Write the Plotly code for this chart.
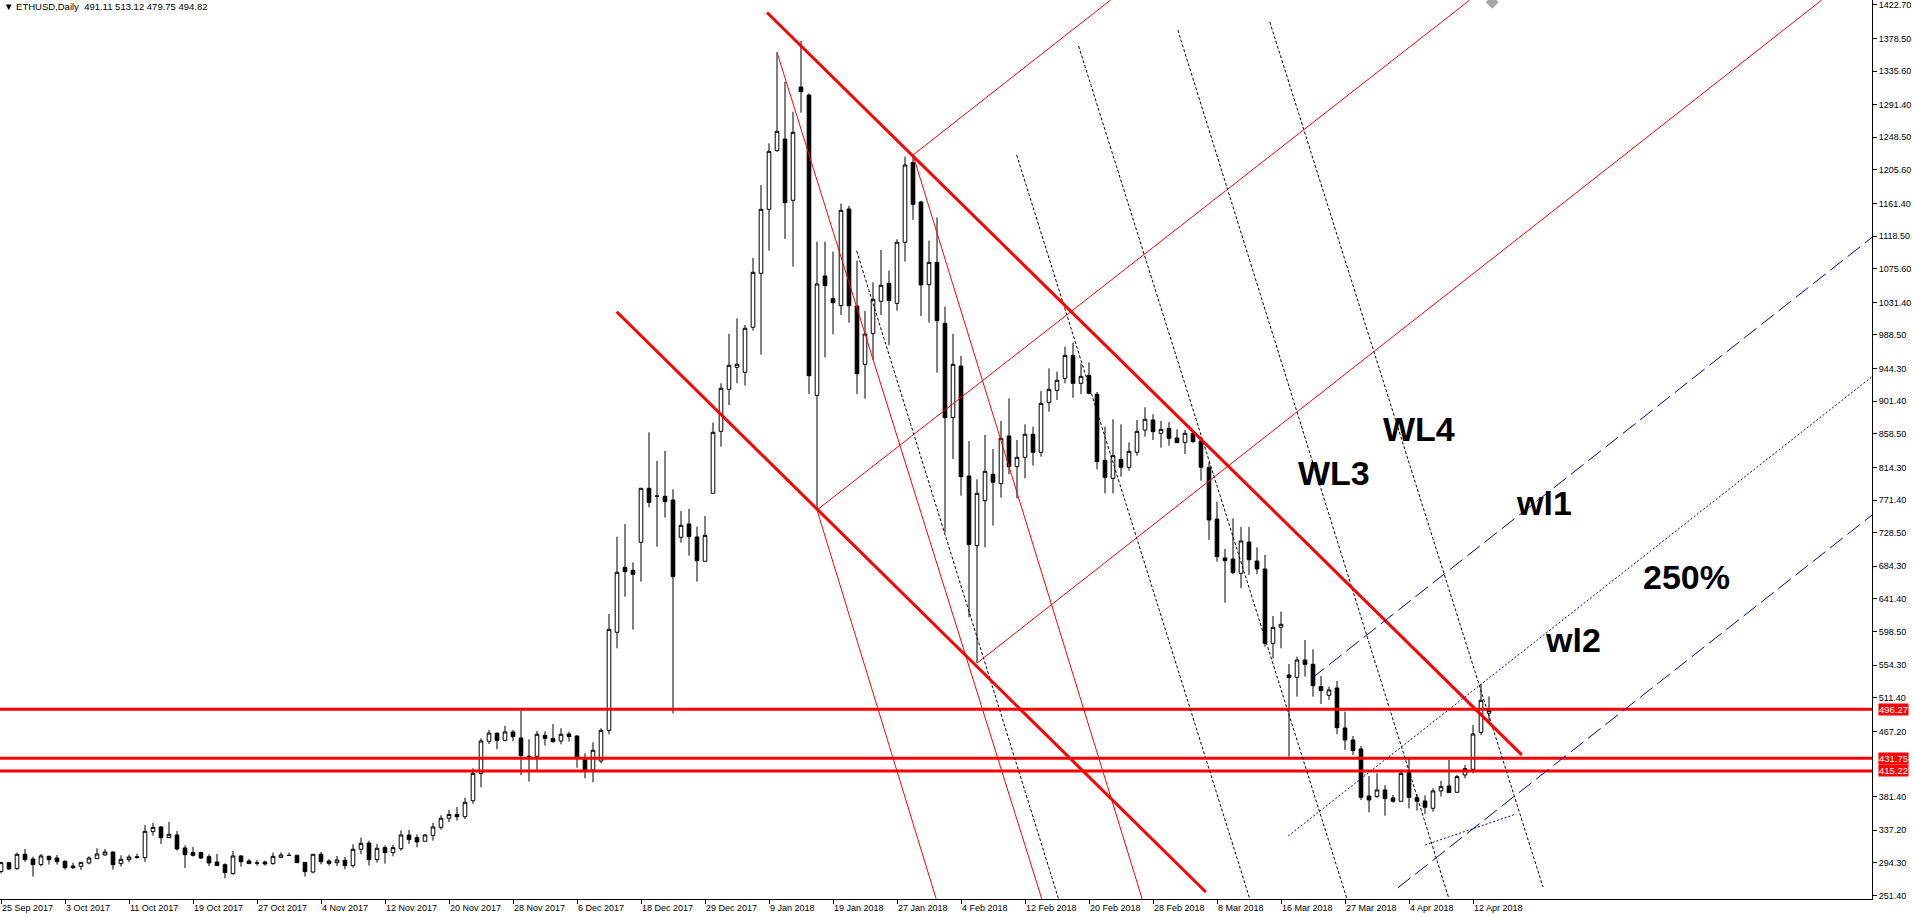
"""
ETHUSD daily candles with channel / trendline drawings (MT4 style)
"""

import plotly.graph_objects as go

## daily bars, left to right
opens = [
    283.0, 294.6, 286.7, 305.6, 299.4, 292.0, 302.9, 300.7, 296.4, 290.2,
    289.8, 294.2, 299.9, 304.7, 308.6, 293.3, 298.6, 301.3, 301.2, 335.4,
    341.5, 327.5, 331.0, 313.9, 307.8, 307.8, 302.5, 295.5, 292.0, 280.1,
    303.4, 296.8, 294.2, 295.5, 293.3, 301.6, 304.3, 304.3, 295.0, 282.3,
    305.6, 296.8, 294.6, 297.7, 290.7, 312.2, 320.5, 298.6, 314.3, 307.8,
    313.0, 331.0, 327.5, 322.7, 330.5, 341.0, 353.0, 358.0, 355.0, 376.0,
    412.0, 454.2, 465.0, 455.5, 466.5, 458.6, 434.5, 434.5, 462.0, 458.0,
    454.6, 463.8, 461.2, 430.5, 416.5, 428.3, 468.6, 597.5, 683.0, 679.0,
    715.9, 786.9, 776.8, 776.3, 771.5, 722.4, 740.0, 722.9, 690.9, 780.3,
    861.8, 917.1, 946.0, 939.4, 998.6, 1069.6, 1153.7, 1230.9, 1246.2, 1165.6,
    1314.6, 1304.1, 909.1, 1066.1, 1036.3, 1027.0, 1154.2, 1026.6, 949.9, 990.3,
    1032.8, 1056.5, 1030.1, 1110.4, 1215.1, 1163.4, 1054.7, 1084.0, 1003.8, 879.8,
    947.7, 803.1, 711.5, 770.6, 805.3, 793.0, 855.7, 815.3, 827.6, 857.9,
    834.2, 899.9, 915.7, 931.5, 961.7, 924.9, 935.4, 910.5, 823.7, 800.0,
    825.0, 814.5, 834.2, 863.5, 876.7, 859.2, 865.7, 853.0, 847.3, 859.2,
    849.1, 814.0, 746.5, 695.3, 693.9, 675.1, 716.3, 691.3, 680.8, 583.0,
    604.1, 541.4, 538.3, 561.1, 555.4, 526.1, 514.7, 524.3, 471.7, 455.9,
    444.1, 382.3, 381.4, 390.2, 379.7, 375.3, 413.0, 380.1, 375.7, 366.1,
    388.9, 395.4, 387.1, 409.9, 417.3, 466.0, 491.11,
]
highs = [
    295.9, 295.5, 307.8, 312.6, 302.5, 306.0, 303.8, 304.7, 297.7, 294.6,
    295.0, 303.0, 313.5, 312.6, 309.5, 304.3, 305.0, 306.4, 344.1, 346.8,
    342.8, 348.0, 336.2, 317.4, 315.2, 309.1, 305.6, 306.0, 293.7, 310.0,
    304.3, 299.4, 298.1, 297.3, 307.8, 308.2, 307.8, 304.3, 295.0, 306.0,
    308.6, 299.0, 303.4, 302.1, 318.7, 327.5, 323.5, 319.2, 317.4, 318.3,
    337.1, 337.6, 331.9, 331.9, 347.2, 357.0, 364.0, 368.0, 380.0, 418.7,
    458.0, 469.0, 465.0, 474.3, 469.0, 494.5, 456.8, 467.8, 467.3, 477.0,
    471.3, 467.0, 462.0, 438.4, 452.9, 471.3, 621.6, 723.3, 740.0, 689.5,
    786.9, 860.5, 822.8, 836.0, 785.5, 757.0, 759.7, 736.4, 750.5, 873.2,
    925.0, 989.8, 1010.4, 1001.7, 1089.7, 1185.7, 1240.5, 1360.2, 1321.6, 1282.2,
    1375.1, 1306.0, 1111.2, 1111.2, 1098.0, 1161.2, 1158.1, 1086.3, 1020.0, 1057.8,
    1100.3, 1073.1, 1114.3, 1223.0, 1225.2, 1165.0, 1112.6, 1143.2, 1025.8, 989.8,
    960.9, 849.1, 798.7, 857.0, 838.6, 875.4, 905.2, 850.4, 871.0, 867.9,
    914.8, 944.6, 940.3, 973.1, 978.4, 951.2, 952.5, 913.5, 867.9, 877.6,
    871.0, 847.3, 876.7, 893.4, 884.2, 875.4, 874.1, 864.4, 863.5, 861.4,
    854.8, 821.0, 769.3, 707.1, 747.4, 736.0, 736.0, 709.3, 699.2, 619.0,
    624.7, 555.8, 565.5, 587.4, 575.1, 540.1, 526.1, 533.5, 493.2, 461.2,
    448.0, 408.6, 412.1, 396.7, 383.6, 416.5, 433.1, 384.5, 383.2, 392.4,
    402.0, 429.6, 409.9, 423.0, 475.6, 529.1, 513.12,
]
lows = [
    280.6, 285.4, 285.4, 295.9, 276.2, 289.8, 292.0, 292.0, 285.4, 286.3,
    285.0, 292.4, 299.4, 303.8, 285.4, 289.3, 295.0, 300.0, 295.5, 330.1,
    319.2, 327.5, 310.4, 287.6, 302.5, 299.4, 290.2, 290.7, 274.0, 278.8,
    289.3, 293.3, 290.7, 290.7, 292.0, 300.3, 303.8, 294.6, 276.2, 280.6,
    292.4, 290.7, 290.2, 285.9, 288.0, 305.6, 290.7, 294.6, 293.3, 302.9,
    310.4, 319.2, 314.8, 322.7, 323.5, 338.0, 348.0, 350.0, 352.0, 372.0,
    393.7, 450.7, 443.7, 454.2, 454.2, 409.9, 401.2, 416.5, 448.5, 452.4,
    450.2, 454.0, 419.5, 405.5, 400.3, 425.3, 463.4, 576.5, 644.4, 601.0,
    664.1, 761.9, 710.1, 748.3, 491.0, 715.4, 698.3, 664.1, 690.9, 780.3,
    841.6, 896.5, 925.0, 921.9, 994.2, 962.7, 1099.4, 1229.6, 1114.7, 1078.4,
    1280.8, 910.9, 758.4, 959.1, 989.4, 1014.8, 1004.7, 910.9, 904.8, 955.6,
    1014.8, 975.0, 1020.5, 1085.0, 1139.7, 1013.5, 1004.7, 938.9, 728.6, 825.4,
    777.2, 617.2, 557.0, 709.3, 737.8, 774.6, 805.3, 773.7, 800.0, 816.7,
    828.5, 887.7, 903.0, 924.9, 906.0, 910.5, 910.5, 811.8, 780.3, 780.3,
    802.2, 810.0, 829.8, 854.8, 850.4, 840.3, 843.0, 846.9, 832.0, 846.9,
    796.9, 718.9, 690.4, 636.5, 674.2, 655.4, 672.9, 673.8, 578.6, 563.3,
    576.5, 434.0, 512.9, 539.2, 512.9, 503.3, 508.5, 463.4, 442.8, 436.2,
    377.0, 360.8, 380.1, 356.4, 373.5, 375.3, 366.0, 363.0, 358.6, 361.7,
    381.4, 386.7, 387.1, 405.5, 412.1, 462.5, 479.75,
]
closes = [
    294.6, 286.3, 305.6, 298.6, 292.0, 303.4, 298.6, 295.9, 288.0, 288.0,
    295.0, 300.7, 306.0, 308.6, 292.0, 299.0, 302.0, 302.3, 335.8, 341.0,
    327.5, 331.9, 312.6, 305.1, 304.2, 300.7, 294.2, 290.7, 281.5, 303.4,
    295.9, 293.3, 294.0, 292.9, 302.9, 304.7, 304.0, 294.6, 282.8, 305.6,
    295.9, 293.7, 298.1, 290.7, 312.2, 320.0, 298.6, 313.5, 307.8, 314.3,
    331.0, 324.9, 321.8, 331.0, 341.5, 353.0, 358.0, 355.0, 374.0, 412.0,
    454.6, 465.0, 455.5, 466.5, 460.3, 435.3, 433.0, 463.4, 458.0, 453.7,
    463.4, 460.3, 433.1, 416.5, 442.4, 468.6, 601.4, 676.4, 677.3, 673.8,
    786.9, 768.4, 776.5, 769.3, 670.7, 738.2, 723.3, 691.7, 725.0, 860.5,
    918.4, 948.6, 950.0, 997.3, 1070.9, 1153.7, 1230.0, 1256.3, 1162.5, 1255.0,
    1308.5, 935.0, 1055.6, 1053.4, 1031.0, 1152.4, 1027.0, 937.6, 989.8, 1035.4,
    1053.8, 1033.7, 1110.4, 1212.0, 1160.3, 1054.3, 1084.0, 1007.4, 879.8, 949.9,
    802.2, 712.8, 780.3, 809.2, 794.8, 852.6, 815.3, 827.6, 857.9, 834.2,
    898.6, 917.0, 928.9, 961.7, 924.9, 934.1, 911.8, 821.9, 801.3, 829.8,
    814.5, 835.5, 861.8, 877.6, 861.4, 864.4, 852.6, 846.9, 859.2, 848.2,
    814.5, 745.2, 697.0, 691.7, 676.0, 717.6, 693.0, 680.8, 583.0, 604.1,
    608.0, 537.9, 561.1, 555.4, 527.4, 520.8, 521.7, 472.1, 455.9, 441.9,
    380.5, 377.0, 390.2, 378.8, 375.3, 412.1, 380.5, 375.3, 367.4, 388.9,
    394.6, 386.7, 407.7, 418.2, 463.8, 508.1, 494.82,
]

## date labels, one every 8 bars
date_labels = [
    "25 Sep 2017", "3 Oct 2017", "11 Oct 2017", "19 Oct 2017", "27 Oct 2017",
    "4 Nov 2017", "12 Nov 2017", "20 Nov 2017", "28 Nov 2017", "6 Dec 2017",
    "18 Dec 2017", "29 Dec 2017", "9 Jan 2018", "19 Jan 2018", "27 Jan 2018",
    "4 Feb 2018", "12 Feb 2018", "20 Feb 2018", "28 Feb 2018", "8 Mar 2018",
    "16 Mar 2018", "27 Mar 2018", "4 Apr 2018", "12 Apr 2018",
]
## price scale labels (the one at 424.30 is hidden under the level tags)
price_labels = [
    1422.70, 1378.50, 1335.60, 1291.40, 1248.50, 1205.60, 1161.40, 1118.50,
    1075.60, 1031.40, 988.50, 944.30, 901.40, 858.50, 814.30, 771.40, 728.50,
    684.30, 641.40, 598.50, 554.30, 511.40, 467.20, 381.40, 337.20,
    294.30, 251.40,
]

## horizontal levels
levels = [496.27, 431.75, 415.22]

## drawn lines: (bar, price) start and end
thick_red = [
    [(95.75, 1412.6), (190.1, 436.4)],
    [(76.96, 1019.1), (150.6, 256.0)],
]
thin_red = [
    [(97.0, 1360.2), (130.1, 246.8)],
    [(102.0, 758.4), (116.9, 246.8)],
    [(114.0, 1225.2), (142.65, 246.8)],
    [(114.0, 1225.2), (138.7, 1429.0)],
    [(102.0, 758.4), (183.6, 1429.0)],
    [(122.0, 557.0), (227.6, 1429.0)],
]
black_dots = [
    [(106.96, 1099.0), (132.2, 246.8)],
    [(126.96, 1225.2), (156.1, 246.8)],
    [(134.7, 1368.5), (168.25, 246.8)],
    [(147.1, 1389.5), (181.0, 246.8)],
    [(158.6, 1400.1), (192.75, 262.6)],
]
blue_dash = [
    [(163.84, 537.0), (233.9, 1117.0)],
    [(174.6, 261.4), (233.9, 751.9)],
]
blue_dots = [
    [(160.9, 329.7), (233.9, 933.8)],
    [(178.0, 317.8), (189.4, 358.6)],
]

## labels on chart
notes = ["WL3", "WL4", "wl1", "250%", "wl2"]
note_x = [166.6, 177.2, 192.9, 210.7, 196.5]
note_y = [807.5, 865.3, 767.5, 670.0, 588.0]

bars = list(range(len(opens)))

fig = go.Figure()
fig.add_candlestick(
    x=bars,
    open=opens,
    high=highs,
    low=lows,
    close=closes,
    increasing=dict(line=dict(color="black", width=1), fillcolor="white"),
    decreasing=dict(line=dict(color="black", width=1), fillcolor="black"),
    whiskerwidth=0,
    hoverinfo="skip",
)


def add_lines(segments, color, width, dash="solid"):
    for (x0, y0), (x1, y1) in segments:
        fig.add_scatter(
            x=[x0, x1],
            y=[y0, y1],
            mode="lines",
            line=dict(color=color, width=width, dash=dash),
            hoverinfo="skip",
        )


for lv in levels:
    fig.add_scatter(
        x=[-5, 240],
        y=[lv, lv],
        mode="lines",
        line=dict(color="#FF0000", width=3),
        hoverinfo="skip",
    )
add_lines(black_dots, "black", 1, "3px,2px")
add_lines(thin_red, "#FF0000", 1)
add_lines(thick_red, "#FF0000", 3)
add_lines(blue_dash, "#00008B", 1, "16px,6px")
add_lines(blue_dots, "#00008B", 1, "2px,2px")

## small grey object at the top edge
fig.add_scatter(
    x=[186.4], y=[1426], mode="markers",
    marker=dict(symbol="diamond", size=10, color="#A8A8A8"),
    hoverinfo="skip",
)

for t, x, y in zip(notes, note_x, note_y):
    fig.add_annotation(
        x=x, y=y, text="<b>%s</b>" % t, showarrow=False,
        font=dict(family="Liberation Sans, Arial", size=34, color="black"),
    )

## price tags for the levels
for lv in levels:
    fig.add_annotation(
        xref="paper", x=1, y=lv, xanchor="left", xshift=6,
        text="%.2f" % lv, showarrow=False, bgcolor="#FF0000", borderpad=0,
        font=dict(family="Liberation Sans, Arial", size=9.5, color="white"),
    )

fig.add_annotation(
    xref="paper", yref="paper", x=0, y=1, xanchor="left", yanchor="top",
    xshift=2, yshift=1, showarrow=False,
    text="\u25bc ETHUSD,Daily  491.11 513.12 479.75 494.82",
    font=dict(family="Liberation Sans, DejaVu Sans", size=9.5, color="black"),
)

fig.update_layout(
    width=1913,
    height=917,
    margin=dict(l=0, r=41, t=0, b=18),
    paper_bgcolor="white",
    plot_bgcolor="white",
    showlegend=False,
    boxgap=0.35,
    font=dict(family="Liberation Sans, Arial", size=9, color="black"),
    xaxis=dict(
        range=[-0.125, 233.875],
        rangeslider=dict(visible=False),
        showgrid=False,
        zeroline=False,
        showline=True,
        linecolor="black",
        linewidth=1,
        tickmode="array",
        tickvals=[8 * i for i in range(len(date_labels))],
        ticktext=date_labels,
        ticks="outside",
        ticklen=4,
        tickcolor="black",
        ticklabelposition="outside right",
        tickangle=0,
    ),
    yaxis=dict(
        side="right",
        range=[246.8, 1429.0],
        showgrid=False,
        zeroline=False,
        showline=True,
        linecolor="black",
        linewidth=1,
        tickmode="array",
        tickvals=price_labels,
        ticktext=["%.2f" % p for p in price_labels],
        ticks="outside",
        ticklen=4,
        tickcolor="black",
        ticklabeloverflow="allow",
    ),
)

fig.write_html(
    "out.html",
    config={"displayModeBar": False},
    post_script="document.body.style.margin='0px';",
)
